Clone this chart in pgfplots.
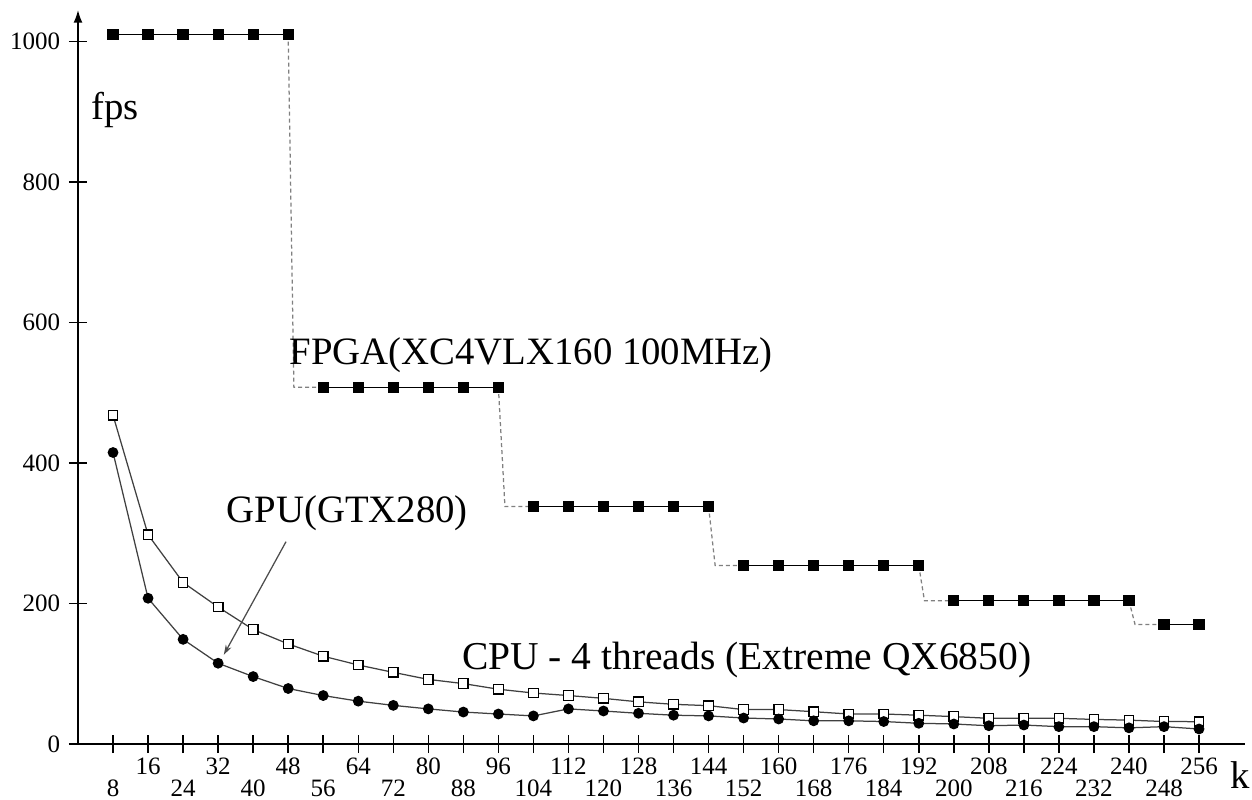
\documentclass[border=0pt]{standalone}
\usepackage{fontspec}
\setmainfont{Liberation Serif}
\usepackage{pgfplots}
\pgfplotsset{compat=1.18}
\usetikzlibrary{arrows.meta}
\begin{document}
\begin{tikzpicture}
\begin{axis}[
  scale only axis, width=466.8pt, height=293.6pt,
  xmin=0, xmax=266.5, ymin=0, ymax=1045,
  axis x line=bottom, axis y line=left,
  x axis line style={-},
  y axis line style={-{Latex[length=5pt,width=3.5pt]}},
  axis line style={line width=0.6pt},
  tick style={black, line width=0.6pt},
  tick align=center, major tick length=7.2pt,
  xtick={16,32,...,256},
  extra x ticks={8,24,...,248},
  x tick label style={yshift=1.6pt},
  extra x tick style={tick label style={yshift=-8.8pt}},
  ytick={0,200,...,1000},
  tick label style={font=\fontsize{10}{12}\selectfont},
  /pgf/number format/assume math mode=true,
  /pgf/number format/1000 sep={},
  clip=false,
]
% FPGA connectors
\addplot[gray, line width=0.5pt, dash pattern=on 1.6pt off 1.2pt] coordinates {(48,1010)(49.3,508)(56,508)};
\addplot[gray, line width=0.5pt, dash pattern=on 1.6pt off 1.2pt] coordinates {(96,508)(97.5,338)(104,338)};
\addplot[gray, line width=0.5pt, dash pattern=on 1.6pt off 1.2pt] coordinates {(144,338)(145.5,254)(152,254)};
\addplot[gray, line width=0.5pt, dash pattern=on 1.6pt off 1.2pt] coordinates {(192,254)(193.3,204)(200,204)};
\addplot[gray, line width=0.5pt, dash pattern=on 1.6pt off 1.2pt] coordinates {(240,204)(241.4,170)(248,170)};
% FPGA levels
\addplot[black, line width=0.5pt, mark=square*, mark size=2pt] coordinates {(8,1010)(16,1010)(24,1010)(32,1010)(40,1010)(48,1010)};
\addplot[black, line width=0.5pt, mark=square*, mark size=2pt] coordinates {(56,508)(64,508)(72,508)(80,508)(88,508)(96,508)};
\addplot[black, line width=0.5pt, mark=square*, mark size=2pt] coordinates {(104,338)(112,338)(120,338)(128,338)(136,338)(144,338)};
\addplot[black, line width=0.5pt, mark=square*, mark size=2pt] coordinates {(152,254)(160,254)(168,254)(176,254)(184,254)(192,254)};
\addplot[black, line width=0.5pt, mark=square*, mark size=2pt] coordinates {(200,204)(208,204)(216,204)(224,204)(232,204)(240,204)};
\addplot[black, line width=0.5pt, mark=square*, mark size=2pt] coordinates {(248,170)(256,170)};
% CPU
\addplot[black!75, line width=0.5pt, mark=square*, mark size=1.9pt, mark options={draw=black, fill=white, line width=0.5pt}] coordinates {
(8,468)(16,298)(24,230)(32,195)(40,163)(48,142.5)(56,125)(64,112.5)(72,102)(80,92)(88,86)
(96,78)(104,72.6)(112,69)(120,65)(128,60)(136,56.5)(144,54.6)(152,49)(160,49)(168,46)(176,42.7)
(184,42.7)(192,41)(200,39)(208,36.6)(216,36.6)(224,36.6)(232,35)(240,34)(248,32)(256,31.8)};
% GPU
\addplot[black!75, line width=0.5pt, mark=*, mark size=1.9pt, mark options={draw=black, fill=black}] coordinates {
(8,415)(16,207.5)(24,149)(32,115)(40,96)(48,79)(56,69)(64,61)(72,55)(80,50)(88,45.5)
(96,42.7)(104,40)(112,50)(120,47)(128,43.7)(136,41)(144,40)(152,37)(160,35.6)(168,33)(176,33)
(184,32)(192,29.5)(200,28.5)(208,26)(216,27)(224,24.7)(232,24.7)(240,23)(248,24.7)(256,21.4)};
% labels
\node[font=\fontsize{15.5}{18}\selectfont] at (axis cs:8.4,903) {fps};
\node[font=\fontsize{15.5}{18}\selectfont] at (axis cs:103.5,554) {FPGA(XC4VLX160 100MHz)};
\node[font=\fontsize{15.5}{18}\selectfont] at (axis cs:61.5,329) {GPU(GTX280)};
\node[font=\fontsize{15.8}{18}\selectfont] at (axis cs:152.7,120) {CPU - 4 threads (Extreme QX6850)};
\node[font=\fontsize{15.5}{18}\selectfont] at (axis cs:265.3,0) [yshift=-12.4pt] {k};
\draw[black!70, line width=0.5pt, -{Stealth[length=4pt,width=2.5pt]}] (axis cs:47.5,288) -- (axis cs:33.3,127);
\coordinate (O) at (rel axis cs:0,0);
\coordinate (TR) at (rel axis cs:1,1);
\end{axis}
\pgfresetboundingbox
\path[use as bounding box] ([xshift=-31.2pt,yshift=-22pt]O) rectangle ([xshift=2.8pt,yshift=4pt]TR);
\end{tikzpicture}
\end{document}
